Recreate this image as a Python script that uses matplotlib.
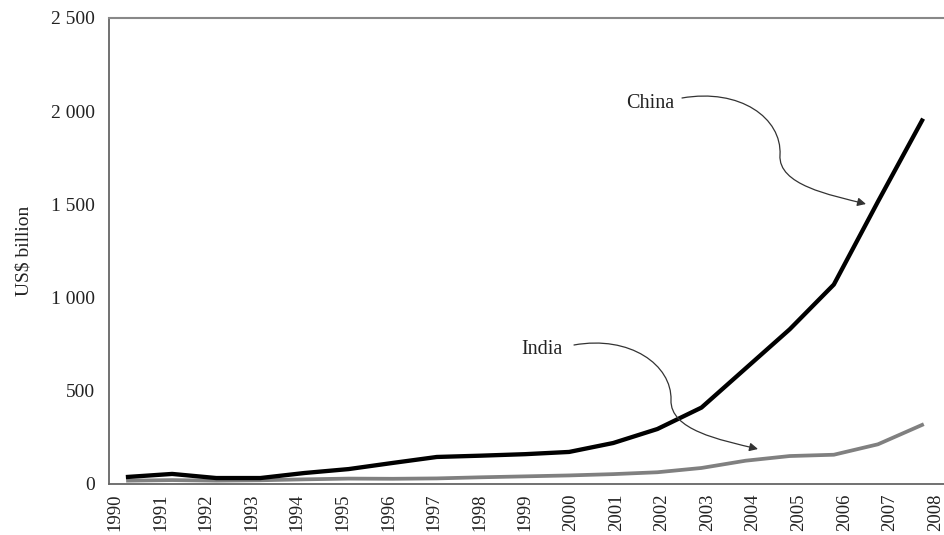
import numpy as np
import matplotlib
matplotlib.use("Agg")
import matplotlib.pyplot as plt
from matplotlib.path import Path
from matplotlib.patches import FancyArrowPatch
from matplotlib.ticker import FuncFormatter

# Datos (US$ miles de millones)
years = list(range(1990, 2009))
china = [38, 54, 32, 32, 59, 80, 113, 145, 152, 160, 172, 220, 295, 410,
         620, 830, 1070, 1515, 1950]
india = [18, 21, 18, 20, 25, 29, 28, 30, 36, 41, 46, 53, 63, 86,
         125, 150, 157, 213, 317]
year_labels = [str(y) for y in range(1990, 2009)]
y_ticks = [0, 500, 1000, 1500, 2000, 2500]

plt.rcParams['font.family'] = ['Liberation Serif', 'DejaVu Serif']
text_color = '#222222'

fig = plt.figure(figsize=(9.45, 5.35), dpi=100)
ax = fig.add_axes([109 / 945, 1 - 484 / 535, 1 - 109 / 945, (484 - 18) / 535])

ax.plot(years, china, color='black', lw=3.1, solid_joinstyle='round', zorder=3)
ax.plot(years, india, color='#808080', lw=2.7, solid_joinstyle='round', zorder=2)

ax.set_xlim(1989.569, 2008.52)
ax.set_ylim(0, 2500)

# las etiquetas de años van un poco desplazadas respecto a los puntos
ax.set_xticks(np.linspace(1989.705, 2008.3, len(year_labels)))
ax.set_xticklabels(year_labels, rotation=90)
ax.set_yticks(y_ticks)
ax.yaxis.set_major_formatter(FuncFormatter(lambda v, p: f"{int(v):,}".replace(",", " ")))

ax.tick_params(axis='x', length=0, pad=7, labelsize=13.5, labelcolor=text_color)
ax.tick_params(axis='y', length=0, pad=10, labelsize=14, labelcolor=text_color)

ax.set_ylabel('US$ billion', fontsize=14, color=text_color)
ax.yaxis.set_label_coords(-0.092, 0.5)

for s in ['left', 'bottom']:
    ax.spines[s].set_color('#666666')
    ax.spines[s].set_linewidth(1.3)
ax.spines['top'].set_color('#888888')
ax.spines['top'].set_linewidth(1.5)
ax.spines['right'].set_visible(False)

# Anotaciones con flechas curvas (coordenadas en píxeles de la figura)
px = plt.matplotlib.transforms.Affine2D().scale(1 / 945, -1 / 535).translate(0, 1) + fig.transFigure


def flecha_curva(puntos):
    codes = [Path.MOVETO] + [Path.CURVE4] * (len(puntos) - 1)
    arr = FancyArrowPatch(path=Path(puntos, codes), transform=px,
                          arrowstyle='-|>,head_length=5,head_width=2.5',
                          color='#333333', lw=0.9, zorder=4)
    fig.add_artist(arr)


fig.text(674, 104, 'China', transform=px, ha='right', va='center',
         fontsize=14.5, color=text_color)
flecha_curva([(682, 98), (740, 88), (782, 118), (780, 155),
              (778, 185), (830, 195), (866, 204)])

fig.text(563, 349, 'India', transform=px, ha='right', va='center',
         fontsize=14.5, color=text_color)
flecha_curva([(574, 345), (630, 335), (672, 365), (671, 400),
              (670, 430), (720, 440), (758, 449)])

fig.savefig('out.png', dpi=100)
